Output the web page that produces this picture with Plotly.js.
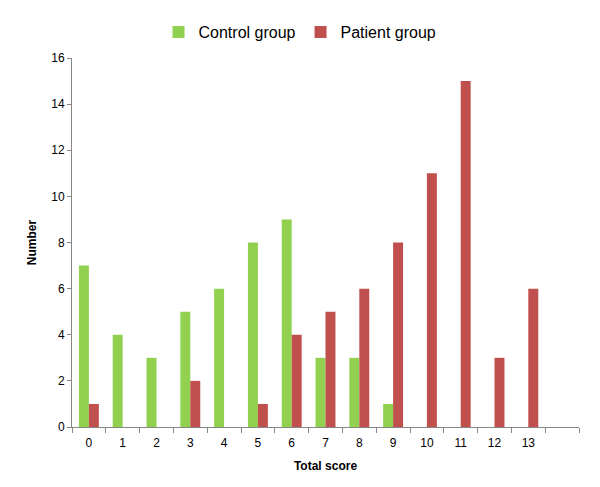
<!DOCTYPE html>
<html lang="en">
<head>
    <meta charset="UTF-8">
    <title>Total score distribution</title>
    <script src="https://cdn.plot.ly/plotly-3.0.1.min.js"></script>
    <style>
        body { margin: 0; background: #fff; }
        #chart { width: 600px; height: 487px; }
    </style>
</head>
<body>
    <div id="chart"></div>
    <script>
        // Scores 0..13 (axis keeps one empty slot after 13)
        const scores = [0, 1, 2, 3, 4, 5, 6, 7, 8, 9, 10, 11, 12, 13];
        const controlGroup = [7, 4, 3, 5, 6, 8, 9, 3, 3, 1, 0, 0, 0, 0];
        const patientGroup = [1, 0, 0, 2, 0, 1, 4, 5, 6, 8, 11, 15, 3, 6];
        const yTicks = [0, 2, 4, 6, 8, 10, 12, 14, 16];

        const font = 'Liberation Sans, Arial, sans-serif';

        const data = [
            {
                x: scores,
                y: controlGroup,
                type: 'bar',
                name: 'Control group',
                marker: { color: '#92D050' }
            },
            {
                x: scores,
                y: patientGroup,
                type: 'bar',
                name: 'Patient group',
                marker: { color: '#C0504D' }
            }
        ];

        const layout = {
            width: 600,
            height: 487,
            margin: { l: 72, r: 21, t: 58, b: 60 },
            paper_bgcolor: '#fff',
            plot_bgcolor: '#fff',
            font: { family: font, size: 11, color: '#000' },
            barmode: 'group',
            bargap: 0.41,
            bargroupgap: 0,
            showlegend: true,
            legend: {
                orientation: 'h',
                xref: 'container', yref: 'container',
                x: 0.5, xanchor: 'center',
                y: 1 - 32 / 487, yanchor: 'middle',
                font: { size: 16, family: font },
                itemwidth: 30,
                traceorder: 'normal'
            },
            xaxis: {
                range: [-0.5, 14.5],
                tickvals: scores,
                ticktext: scores.map(String),
                ticks: '',
                ticklabelstandoff: 5,
                showgrid: false,
                zeroline: false,
                showline: true,
                linecolor: '#868686',
                linewidth: 1,
                tickfont: { size: 12 },
                minor: {
                    tick0: -0.5,
                    dtick: 1,
                    ticks: 'outside',
                    ticklen: 5,
                    tickcolor: '#868686',
                    showgrid: false
                },
                title: { text: 'Total score', font: { size: 12, weight: 'bold' }, standoff: 12 },
                fixedrange: true
            },
            yaxis: {
                range: [0, 16],
                tickvals: yTicks,
                ticks: 'outside',
                ticklen: 4,
                tickcolor: '#868686',
                showgrid: false,
                zeroline: false,
                showline: true,
                linecolor: '#868686',
                linewidth: 1,
                tickfont: { size: 12 },
                title: { text: 'Number', font: { size: 12, weight: 'bold' }, standoff: 12 },
                fixedrange: true
            }
        };

        Plotly.newPlot('chart', data, layout, { displayModeBar: false, staticPlot: true });
    </script>
</body>
</html>
